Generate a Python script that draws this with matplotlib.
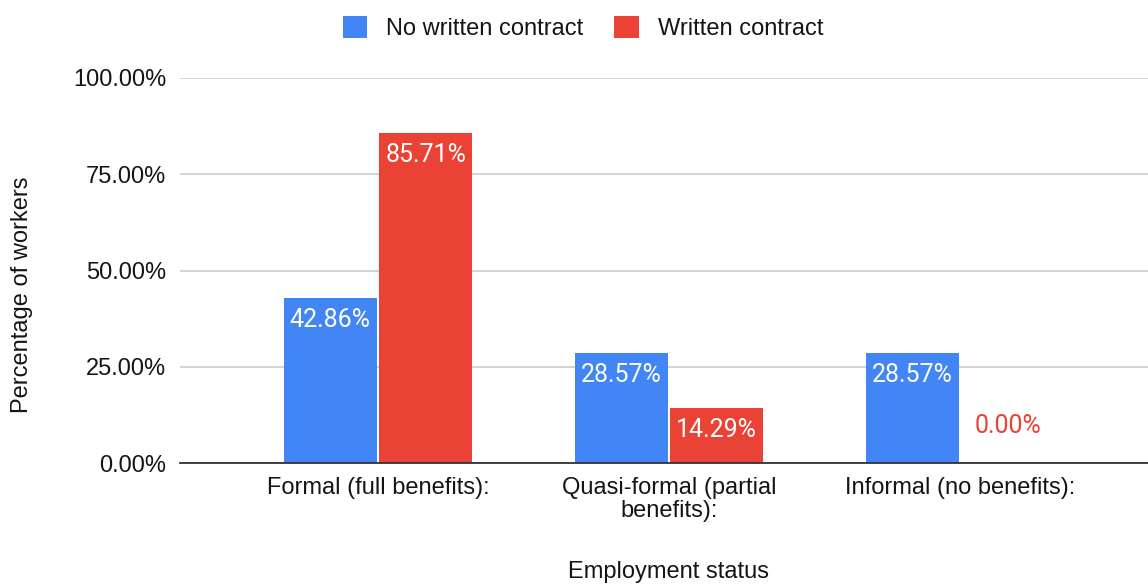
import matplotlib
matplotlib.use("Agg")
import matplotlib.pyplot as plt
import numpy as np
from matplotlib.patches import Patch

# Data
categories = ["Formal (full benefits):", "Quasi-formal (partial\nbenefits):", "Informal (no benefits):"]
series_names = ["No written contract", "Written contract"]
no_contract = [42.86, 28.57, 28.57]
written_contract = [85.71, 14.29, 0.00]
y_ticks = [0, 25, 50, 75, 100]

BLUE = "#4285F4"
RED = "#EA4335"
TEXT = "#151515"
AXIS_FONT = "Liberation Sans"
LABEL_FONT = "Roboto"

fig = plt.figure(figsize=(11.48, 5.85), dpi=100)
ax = fig.add_axes([180 / 1148, 1 - 463 / 585, 968 / 1148, 385 / 585])

x = np.arange(len(categories))
offset = 0.164
width = 0.32

series = [(no_contract, BLUE, -offset), (written_contract, RED, offset)]
for values, color, dx in series:
    bars = ax.bar(x + dx, values, width=width, color=color, zorder=3)
    for bar, v in zip(bars, values):
        cx = bar.get_x() + bar.get_width() / 2
        if v > 5:
            ax.annotate(f"{v:.2f}%", (cx, v), xytext=(0, -22), textcoords="offset pixels",
                        ha="center", va="center", color="white", fontsize=18,
                        family=LABEL_FONT, zorder=4)
        else:
            ax.annotate(f"{v:.2f}%", (cx, v), xytext=(0, 37), textcoords="offset pixels",
                        ha="center", va="center", color=color, fontsize=18,
                        family=LABEL_FONT, zorder=4)

ax.set_xlim(-0.680, 2.646)
ax.set_ylim(0, 100)
ax.set_yticks(y_ticks)
ax.set_yticklabels([f"{t:.2f}%" for t in y_ticks], fontsize=17, family=AXIS_FONT, color=TEXT)
ax.set_xticks(x)
ax.set_xticklabels(categories, fontsize=17, family=AXIS_FONT, color=TEXT, linespacing=1.05)
ax.tick_params(axis="both", length=0)
ax.tick_params(axis="y", pad=10)
ax.tick_params(axis="x", pad=10)

ax.grid(axis="y", color="#cccccc", linewidth=1.2, zorder=0)
for side in ["top", "right", "left"]:
    ax.spines[side].set_visible(False)
ax.spines["bottom"].set_color("#333333")
ax.spines["bottom"].set_linewidth(1.3)
ax.spines["bottom"].set_zorder(5)

fig.text(22 / 1148, 1 - 295 / 585, "Percentage of workers", rotation=90, ha="center", va="center",
         fontsize=17, family=AXIS_FONT, color=TEXT)
fig.text(669 / 1148, 1 - 572 / 585, "Employment status", ha="center", va="center",
         fontsize=17, family=AXIS_FONT, color=TEXT)

handles = [Patch(facecolor=BLUE, edgecolor="none"), Patch(facecolor=RED, edgecolor="none")]
fig.legend(handles, series_names, loc="center", bbox_to_anchor=(583 / 1148, 1 - 28 / 585),
           ncol=2, frameon=False, prop={"family": AXIS_FONT, "size": 17},
           handlelength=1.05, handleheight=1.1, handletextpad=0.8, columnspacing=1.3,
           labelcolor=TEXT)

fig.savefig("out.png", dpi=100)
